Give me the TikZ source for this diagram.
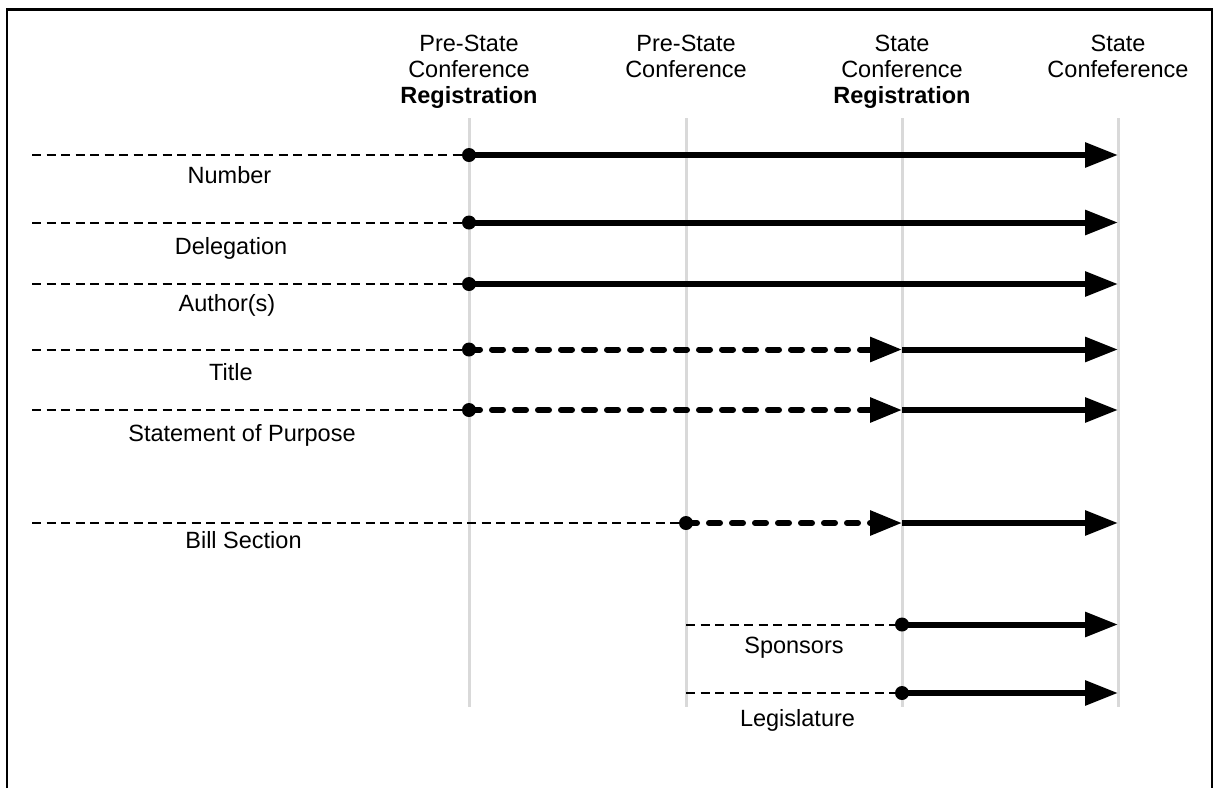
\documentclass[tikz,border=0pt]{standalone}
\usepackage{fontspec}
\setmainfont{Liberation Sans}
\usetikzlibrary{arrows.meta}
\begin{document}
\begin{tikzpicture}[x=1pt,y=-1pt,
  lbl/.style={font=\fontsize{23.5}{26}\selectfont, inner sep=0pt},
  hdr/.style={lbl, align=center, anchor=north},
  rowlbl/.style={lbl, anchor=base},
  guide/.style={draw=black!15, line width=3pt},
  thin/.style={draw=black, line width=2pt, dash pattern=on 9pt off 5.5pt},
  solidarr/.style={draw=black, line width=6pt, -{Triangle[length=33pt,width=24pt]}},
  dasharr/.style={draw=black, line width=6pt, line cap=round, dash pattern=on 11pt off 12pt, -{Triangle[length=32pt,width=24pt]}},
  dot/.style={circle, fill=black, inner sep=0pt, minimum size=14pt}]
\useasboundingbox (0,0) rectangle (1220,788);
% frame
\draw[line width=2.7pt] (7,788) -- (7,9.5) -- (1212,9.5) -- (1212,788);
% guides
\foreach \n/\x in {g1/469,g2/686,g3/902,g4/1118}{
  \coordinate (\n t) at (\x,118);
  \coordinate (\n b) at (\x,707);
  \draw[guide] (\n t) -- (\n b);
}
% headers
\node[hdr] (h1) at (469,35) {Pre-State\\Conference\\\textbf{Registration}};
\node[hdr] (h2) at (686,35) {Pre-State\\Conference};
\node[hdr] (h3) at (902,35) {State\\Conference\\\textbf{Registration}};
\node[hdr] (h4) at (1118,35) {State\\Confeference};
% full rows
\foreach \r/\y/\lx/\ly/\t in {num/155/229.5/183/Number, del/222.5/231/254/Delegation, aut/284/227/311.5/Author(s)}{
  \coordinate (\r s) at (32,\y);
  \coordinate (\r e) at (1118,\y);
  \node[dot] (\r d) at (469,\y) {};
  \draw[thin] (\r s) -- (\r d.center);
  \draw[solidarr] (\r d.center) -- (\r e);
  \node[rowlbl] (\r l) at (\lx,\ly) {\t};
}
% dashed then solid rows
\foreach \r/\y/\lx/\ly/\t in {tit/349.5/231/380.5/Title, sta/410/242/441.5/Statement of Purpose}{
  \coordinate (\r s) at (32,\y);
  \coordinate (\r m) at (902,\y);
  \coordinate (\r e) at (1118,\y);
  \node[dot] (\r d) at (469,\y) {};
  \draw[thin] (\r s) -- (\r d.center);
  \draw[dasharr] (\r d.center) -- (\r m);
  \draw[solidarr] (\r m) -- (\r e);
  \node[rowlbl] (\r l) at (\lx,\ly) {\t};
}
% bill section
\coordinate (bils) at (32,523);
\coordinate (bilm) at (902,523);
\coordinate (bile) at (1118,523);
\node[dot] (bild) at (686,523) {};
\draw[thin] (bils) -- (bild.center);
\draw[dasharr] (bild.center) -- (bilm);
\draw[solidarr] (bilm) -- (bile);
\node[rowlbl] (bill) at (243.5,548.5) {Bill Section};
% late rows
\foreach \r/\y/\lx/\ly/\t in {spo/624.5/794/653.5/Sponsors, leg/693/797.5/726.5/Legislature}{
  \coordinate (\r s) at (686,\y);
  \coordinate (\r e) at (1118,\y);
  \node[dot] (\r d) at (902,\y) {};
  \draw[thin] (\r s) -- (\r d.center);
  \draw[solidarr] (\r d.center) -- (\r e);
  \node[rowlbl] (\r l) at (\lx,\ly) {\t};
}
\end{tikzpicture}
\end{document}
